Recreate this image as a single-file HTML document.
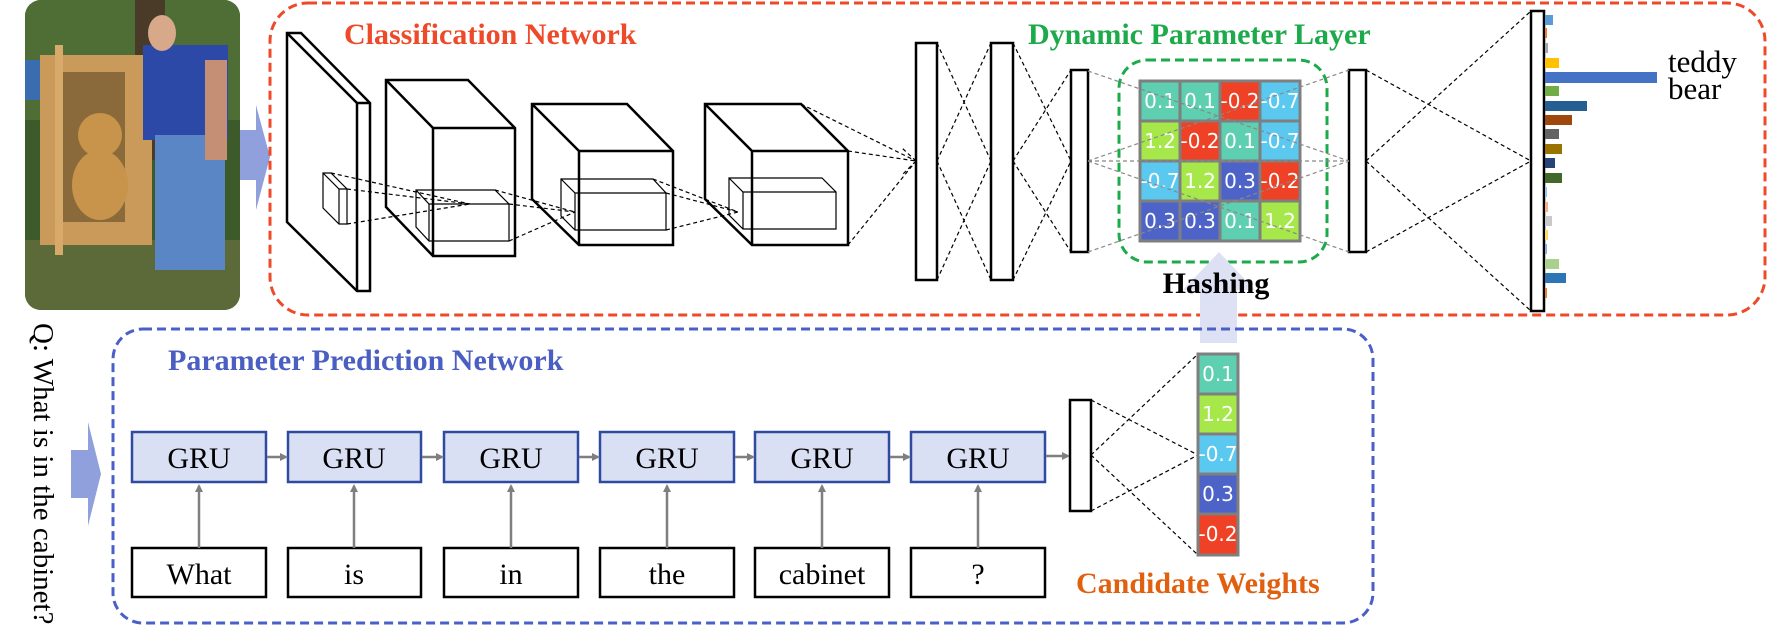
<!DOCTYPE html>
<html><head><meta charset="utf-8"><style>
html,body{margin:0;padding:0;background:#fff;}
svg{display:block;}
.t{font-family:"Liberation Serif",serif;}
.c{font-family:"DejaVu Sans","Liberation Sans",sans-serif;fill:#fff;font-size:20px;text-anchor:middle;}
</style></head><body>
<svg width="1785" height="643" viewBox="0 0 1785 643" xmlns="http://www.w3.org/2000/svg">
<defs>
<clipPath id="pc"><rect x="25" y="0" width="215" height="310" rx="16"/></clipPath>
<marker id="ah" markerWidth="8" markerHeight="8" refX="6" refY="4" orient="auto" markerUnits="userSpaceOnUse"><path d="M0,0 L8,4 L0,8 z" fill="#7f7f7f"/></marker>
</defs>
<g clip-path="url(#pc)">
<rect x="25" y="0" width="215" height="310" fill="#3d5a2a"/>
<rect x="25" y="0" width="215" height="120" fill="#4f6e35"/>
<rect x="135" y="0" width="30" height="160" fill="#4a3a28"/>
<rect x="25" y="240" width="215" height="70" fill="#5c6a3a"/>
<rect x="25" y="60" width="18" height="40" fill="#3a6db0"/>
<rect x="40" y="55" width="112" height="190" fill="#c99a5a"/>
<rect x="63" y="72" width="62" height="150" fill="#8a6a3a"/>
<ellipse cx="100" cy="135" rx="22" ry="22" fill="#c8934a"/>
<ellipse cx="100" cy="185" rx="28" ry="35" fill="#c8934a"/>
<rect x="55" y="45" width="8" height="210" fill="#d8aa6a"/>
<rect x="143" y="45" width="85" height="95" fill="#2c49a8"/>
<rect x="155" y="135" width="70" height="135" fill="#5a86c6"/>
<ellipse cx="162" cy="33" rx="14" ry="18" fill="#d8a88a"/>
<rect x="205" y="60" width="22" height="100" fill="#c58f76"/>
</g>
<path d="M240,130 L256,130 L256,105 L270,157 L256,210 L256,180 L240,180 Z" fill="#8fa0dd"/>
<rect x="270" y="3" width="1495" height="312" rx="38" fill="none" stroke="#ee4a2a" stroke-width="3" stroke-dasharray="9,5"/>
<text class="t" x="344" y="44" font-size="30" font-weight="bold" fill="#ee4a2a">Classification Network</text>
<text class="t" x="1028" y="44" font-size="30" font-weight="bold" fill="#1daa4a">Dynamic Parameter Layer</text>
<g fill="none" stroke="#000" stroke-width="2.5">
<path d="M287,33 L301,33 L370,103 L370,291 L357,291 L287,222 Z"/>
<path d="M287,33 L357,103 L370,103 M357,103 L357,291"/>
<path d="M386,80 L468,80 L515,128 L515,256 L433,256 L386,207 Z M386,80 L433,128 L515,128 M433,128 L433,256"/>
<path d="M532,104 L627,104 L673,151 L673,245 L579,245 L532,199 Z M532,104 L579,151 L673,151 M579,151 L579,245"/>
<path d="M705,104 L801,104 L848,151 L848,245 L752,245 L705,199 Z M705,104 L752,151 L848,151 M752,151 L752,245"/>
</g>
<g fill="none" stroke="#000" stroke-width="1.2">
<path d="M323,173 L331,173 L347,189 L347,224 L339,224 L323,208 Z M323,173 L339,189 L347,189 M339,189 L339,224"/>
<path d="M416,190 L495,190 L509,204 L509,241 L429,241 L416,227 Z M416,190 L429,204 L509,204 M429,204 L429,241"/>
<path d="M561,179 L653,179 L666,193 L666,230 L575,230 L561,216 Z M561,179 L575,193 L666,193 M575,193 L575,230"/>
<path d="M729,178 L822,178 L836,192 L836,229 L743,229 L729,215 Z M729,178 L743,192 L836,192 M743,192 L743,229"/>
</g>
<g stroke="#000" stroke-width="1.2" stroke-dasharray="4,3" fill="none">
<path d="M331,173 L470,204 M347,189 L470,204 M347,224 L470,204"/>
<path d="M495,190 L575,212 M509,204 L575,212 M509,241 L575,212"/>
<path d="M653,179 L738,212 M666,193 L738,212 M666,230 L738,212"/>
<path d="M801,104 L916,161 M848,151 L916,161 M848,245 L916,161"/>
<path d="M937,43 L991,161 M937,280 L991,161 M937,161 L991,43 M937,161 L991,280"/>
<path d="M1013,43 L1071,161 M1013,280 L1071,161 M1013,161 L1071,70 M1013,161 L1071,252"/>
<path d="M1366,70 L1531,161 M1366,252 L1531,161 M1366,161 L1531,11 M1366,161 L1531,311"/>
<path d="M916,161 L902,148 M916,161 L902,175"/>
</g>
<g fill="#fff" stroke="#000" stroke-width="2.5">
<rect x="916" y="43" width="21" height="237"/>
<rect x="991" y="43" width="22" height="237"/>
<rect x="1071" y="70" width="17" height="182"/>
<rect x="1349" y="70" width="17" height="182"/>
<rect x="1531" y="11" width="13" height="300"/>
</g>
<rect x="1119" y="60" width="208" height="202" rx="28" fill="none" stroke="#1daa4a" stroke-width="3" stroke-dasharray="9,5"/>
<g stroke="#7f7f7f" stroke-width="3">
<rect x="1140" y="81" width="40" height="40" fill="#5ecfb0"/><rect x="1180" y="81" width="40" height="40" fill="#5ecfb0"/><rect x="1220" y="81" width="40" height="40" fill="#ee4126"/><rect x="1260" y="81" width="40" height="40" fill="#5bc8f0"/>
<rect x="1140" y="121" width="40" height="40" fill="#a6e84a"/><rect x="1180" y="121" width="40" height="40" fill="#ee4126"/><rect x="1220" y="121" width="40" height="40" fill="#5ecfb0"/><rect x="1260" y="121" width="40" height="40" fill="#5bc8f0"/>
<rect x="1140" y="161" width="40" height="40" fill="#5bc8f0"/><rect x="1180" y="161" width="40" height="40" fill="#a6e84a"/><rect x="1220" y="161" width="40" height="40" fill="#4d63c8"/><rect x="1260" y="161" width="40" height="40" fill="#ee4126"/>
<rect x="1140" y="201" width="40" height="40" fill="#4d63c8"/><rect x="1180" y="201" width="40" height="40" fill="#4d63c8"/><rect x="1220" y="201" width="40" height="40" fill="#5ecfb0"/><rect x="1260" y="201" width="40" height="40" fill="#a6e84a"/>
</g>
<g class="c">
<text x="1160" y="108">0.1</text><text x="1200" y="108">0.1</text><text x="1240" y="108">-0.2</text><text x="1280" y="108">-0.7</text>
<text x="1160" y="148">1.2</text><text x="1200" y="148">-0.2</text><text x="1240" y="148">0.1</text><text x="1280" y="148">-0.7</text>
<text x="1160" y="188">-0.7</text><text x="1200" y="188">1.2</text><text x="1240" y="188">0.3</text><text x="1280" y="188">-0.2</text>
<text x="1160" y="228">0.3</text><text x="1200" y="228">0.3</text><text x="1240" y="228">0.1</text><text x="1280" y="228">1.2</text>
</g>
<g stroke="#888" stroke-width="1.2" stroke-dasharray="4,3" fill="none">
<path d="M1088,71 L1349,161 M1088,252 L1349,161 M1088,161 L1349,70 M1088,161 L1349,252 M1088,161 L1349,161"/>
</g>
<g>
<rect x="1545" y="15" width="8" height="10" fill="#5b9bd5"/>
<rect x="1545" y="28" width="2" height="10" fill="#ed7d31"/>
<rect x="1545" y="43" width="3" height="10" fill="#a5a5a5"/>
<rect x="1545" y="58" width="14" height="10" fill="#ffc000"/>
<rect x="1545" y="72" width="112" height="11" fill="#4472c4"/>
<rect x="1545" y="86" width="14" height="10" fill="#70ad47"/>
<rect x="1545" y="101" width="42" height="10" fill="#255e91"/>
<rect x="1545" y="115" width="27" height="10" fill="#9e480e"/>
<rect x="1545" y="129" width="14" height="10" fill="#636363"/>
<rect x="1545" y="144" width="17" height="10" fill="#997300"/>
<rect x="1545" y="158" width="10" height="10" fill="#264478"/>
<rect x="1545" y="173" width="17" height="10" fill="#43682b"/>
<rect x="1545" y="187" width="2" height="10" fill="#9dc3e6"/>
<rect x="1545" y="202" width="3" height="10" fill="#f4b183"/>
<rect x="1545" y="216" width="7" height="10" fill="#c9c9c9"/>
<rect x="1545" y="230" width="3" height="10" fill="#ffd966"/>
<rect x="1545" y="244" width="2" height="10" fill="#8faadc"/>
<rect x="1545" y="259" width="14" height="10" fill="#a9d18e"/>
<rect x="1545" y="273" width="21" height="10" fill="#2e75b6"/>
<rect x="1545" y="288" width="2" height="10" fill="#ed7d31"/>
</g>
<text class="t" x="1668" y="72" font-size="31" fill="#000">teddy</text>
<text class="t" x="1668" y="99" font-size="31" fill="#000">bear</text>
<path d="M1200,343 L1200,290 L1183,290 L1219,252 L1255,290 L1237,290 L1237,343 Z" fill="#dde1f3"/>
<text class="t" x="1216" y="293" font-size="30" font-weight="bold" fill="#000" text-anchor="middle">Hashing</text>
<text class="t" font-size="29" fill="#000" transform="translate(34,323) rotate(90)">Q: What is in the cabinet?</text>
<path d="M71,450 L88,450 L88,422 L101,474 L88,526 L88,498 L71,498 Z" fill="#8fa0dd"/>
<rect x="113" y="329" width="1260" height="294" rx="30" fill="none" stroke="#4a5fc8" stroke-width="3" stroke-dasharray="9,5"/>
<text class="t" x="168" y="370" font-size="30" font-weight="bold" fill="#4a5fc1">Parameter Prediction Network</text>
<g stroke="#2f4aa0" stroke-width="2.5" fill="#dae0f3">
<rect x="132" y="432" width="134" height="50"/><rect x="288" y="432" width="133" height="50"/><rect x="444" y="432" width="134" height="50"/><rect x="600" y="432" width="134" height="50"/><rect x="755" y="432" width="134" height="50"/><rect x="911" y="432" width="134" height="50"/>
</g>
<g stroke="#000" stroke-width="2.5" fill="#fff">
<rect x="132" y="548" width="134" height="49"/><rect x="288" y="548" width="133" height="49"/><rect x="444" y="548" width="134" height="49"/><rect x="600" y="548" width="134" height="49"/><rect x="755" y="548" width="134" height="49"/><rect x="911" y="548" width="134" height="49"/>
</g>
<g class="t" font-size="30" fill="#000" text-anchor="middle">
<text x="199" y="468">GRU</text><text x="354" y="468">GRU</text><text x="511" y="468">GRU</text><text x="667" y="468">GRU</text><text x="822" y="468">GRU</text><text x="978" y="468">GRU</text>
<text x="199" y="584">What</text><text x="354" y="584">is</text><text x="511" y="584">in</text><text x="667" y="584">the</text><text x="822" y="584">cabinet</text><text x="978" y="584">?</text>
</g>
<g stroke="#7f7f7f" stroke-width="2.5" marker-end="url(#ah)">
<line x1="199" y1="548" x2="199" y2="486"/><line x1="354" y1="548" x2="354" y2="486"/><line x1="511" y1="548" x2="511" y2="486"/><line x1="667" y1="548" x2="667" y2="486"/><line x1="822" y1="548" x2="822" y2="486"/><line x1="978" y1="548" x2="978" y2="486"/>
<line x1="267" y1="457" x2="286" y2="457"/><line x1="422" y1="457" x2="442" y2="457"/><line x1="579" y1="457" x2="598" y2="457"/><line x1="735" y1="457" x2="753" y2="457"/><line x1="890" y1="457" x2="909" y2="457"/><line x1="1046" y1="456" x2="1068" y2="456"/>
</g>
<rect x="1070" y="400" width="21" height="111" fill="#fff" stroke="#000" stroke-width="2.5"/>
<g stroke="#000" stroke-width="1.2" stroke-dasharray="4,3" fill="none">
<path d="M1091,400 L1198,455 M1091,511 L1198,455 M1091,455 L1198,354 M1091,455 L1198,555"/>
</g>
<g stroke="#7f7f7f" stroke-width="3">
<rect x="1198" y="354" width="40" height="40" fill="#5ecfb0"/>
<rect x="1198" y="394" width="40" height="40" fill="#a6e84a"/>
<rect x="1198" y="434" width="40" height="40" fill="#5bc8f0"/>
<rect x="1198" y="474" width="40" height="40" fill="#4d63c8"/>
<rect x="1198" y="514" width="40" height="41" fill="#ee4126"/>
</g>
<g class="c">
<text x="1218" y="381">0.1</text><text x="1218" y="421">1.2</text><text x="1218" y="461">-0.7</text><text x="1218" y="501">0.3</text><text x="1218" y="541">-0.2</text>
</g>
<text class="t" x="1076" y="593" font-size="30" font-weight="bold" fill="#e06010">Candidate Weights</text>
</svg>
</body></html>
